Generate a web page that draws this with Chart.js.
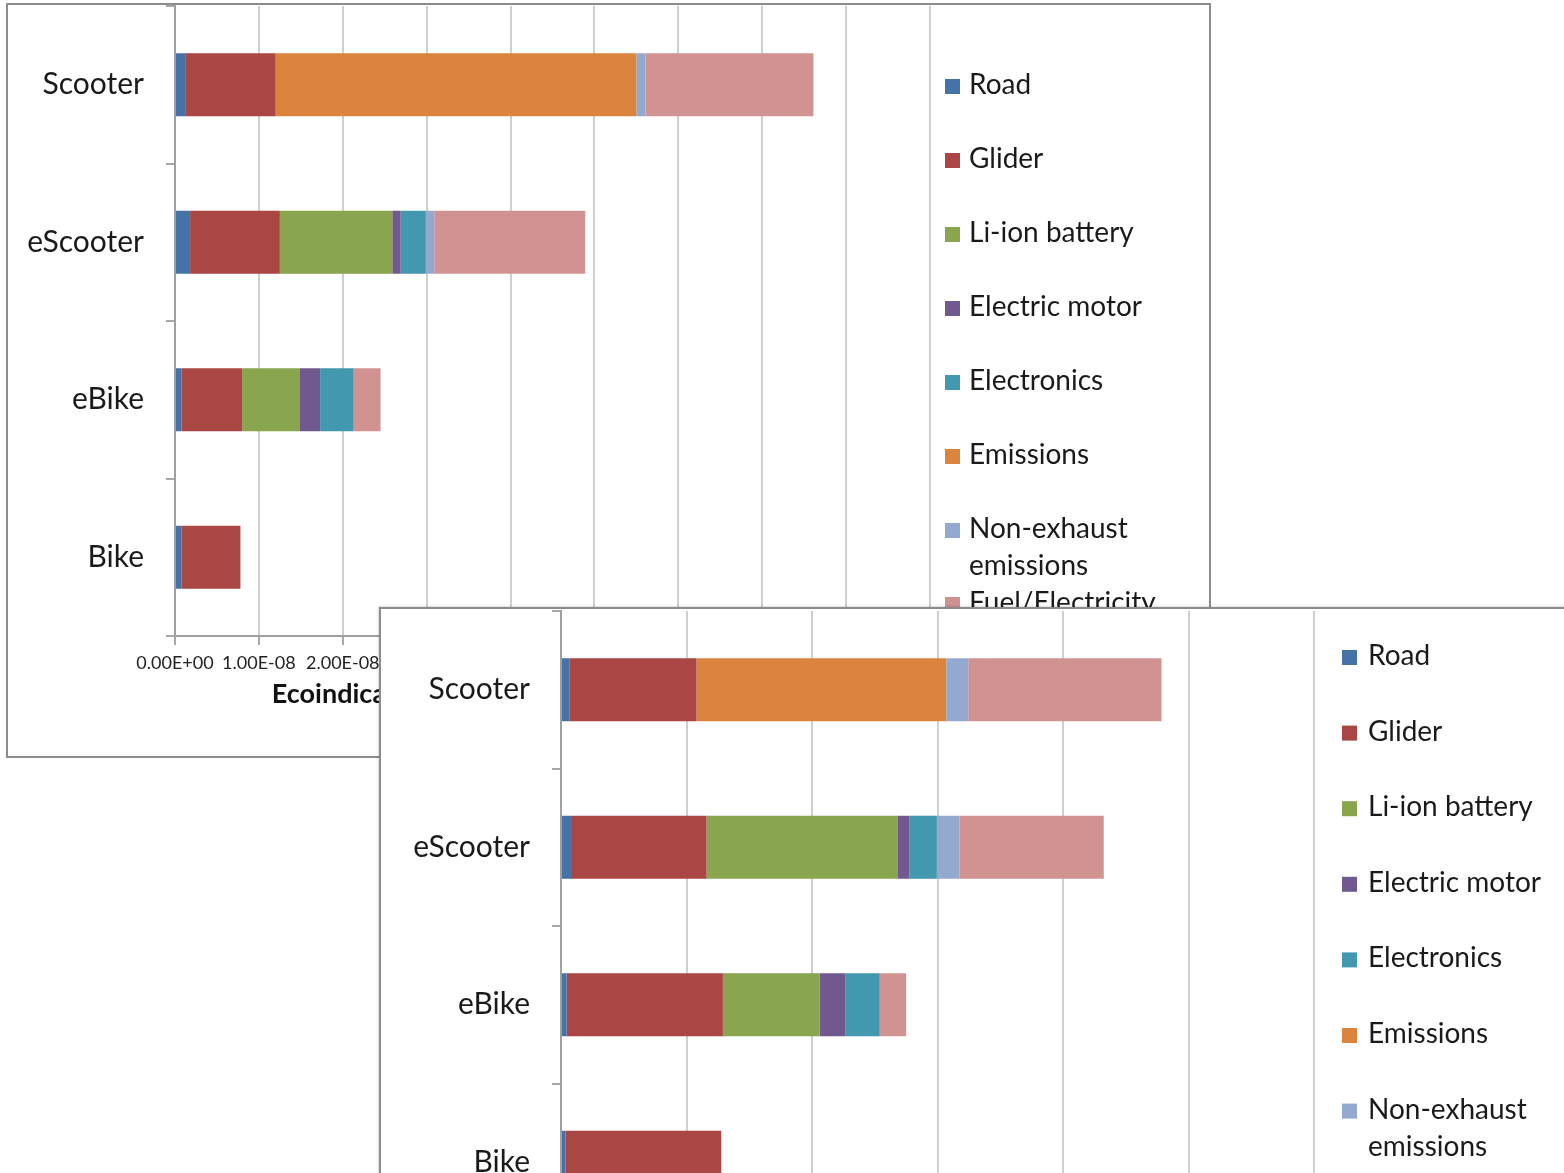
<!DOCTYPE html>
<html>
<head>
<meta charset="utf-8">
<title>Ecoindicator per vehicle</title>
<script src="https://cdn.jsdelivr.net/npm/chart.js@4.4.1/dist/chart.umd.min.js"></script>
<style>
  html, body { margin: 0; padding: 0; background: #fff; overflow: hidden; width: 1564px; height: 1173px; }
  .panel { position: absolute; background: #fff; border: 2px solid #8c8c8c; }
  #panelA { left: 6px; top: 3px; width: 1201px; height: 751px; }
  #panelB { left: 379px; top: 607px; width: 1200px; height: 751px; box-shadow: -1px -1px 2px rgba(0,0,0,0.15); }
  canvas { display: block; }
</style>
</head>
<body>
<div class="panel" id="panelA"><canvas id="chartA" width="1201" height="751"></canvas></div>
<div class="panel" id="panelB"><canvas id="chartB" width="1200" height="751"></canvas></div>
<script>
// vehicles, top to bottom
const vehicles = ['Scooter', 'eScooter', 'eBike', 'Bike'];

const seriesNames = ['Road', 'Glider', 'Li-ion battery', 'Electric motor', 'Electronics',
  'Emissions', 'Non-exhaust emissions', 'Fuel/Electricity'];
const seriesColors = ['#4572A7', '#AA4643', '#89A54E', '#71588F', '#4198AF',
  '#DB843D', '#93A9CF', '#D19392'];

// upper chart, values in units of 1E-08 Ecoindicator points
const roadA        = [0.13, 0.18, 0.08, 0.08];
const gliderA      = [1.07, 1.07, 0.72, 0.70];
const batteryA     = [0, 1.34, 0.69, 0];
const motorA       = [0, 0.10, 0.24, 0];
const electronicsA = [0, 0.30, 0.40, 0];
const emissionsA   = [4.30, 0, 0, 0];
const nonExhaustA  = [0.11, 0.10, 0, 0];
const fuelA        = [2.00, 1.80, 0.32, 0];
const ticksA = { min: 0, max: 9, step: 1 };

// lower chart, values in gridline units
const roadB        = [0.07, 0.08, 0.045, 0.037];
const gliderB      = [1.01, 1.08, 1.245, 1.24];
const batteryB     = [0, 1.525, 0.77, 0];
const motorB       = [0, 0.09, 0.205, 0];
const electronicsB = [0, 0.22, 0.275, 0];
const emissionsB   = [1.99, 0, 0, 0];
const nonExhaustB  = [0.175, 0.18, 0, 0];
const fuelB        = [1.54, 1.15, 0.21, 0];
const ticksB = { min: 0, max: 6, step: 1 };

const FONT = 'Lato, "Open Sans", sans-serif';
const TEXT = '#1a1a1a';

function sci(v) {
  if (v === 0) return '0.00E+00';
  const [m, e] = (v * 1e-8).toExponential(2).split('e');
  const n = Number(e);
  return m + 'E' + (n < 0 ? '-' : '+') + String(Math.abs(n)).padStart(2, '0');
}

// legend on the right, one entry per series, long names wrapped
const sideLegend = {
  id: 'sideLegend',
  afterDraw(chart, args, opts) {
    const ctx = chart.ctx;
    ctx.save();
    ctx.font = opts.font;
    ctx.textBaseline = 'middle';
    ctx.textAlign = 'left';
    chart.data.datasets.forEach((ds, i) => {
      const y = opts.top + i * opts.step;
      ctx.fillStyle = ds.backgroundColor;
      ctx.fillRect(opts.boxX, y - 6, 15, 15);
      // wrap words onto extra lines when too wide
      const lines = [];
      let line = '';
      ds.label.split(' ').forEach(w => {
        const t = line ? line + ' ' + w : w;
        if (line && ctx.measureText(t).width > opts.maxWidth) { lines.push(line); line = w; }
        else line = t;
      });
      lines.push(line);
      ctx.fillStyle = TEXT;
      lines.forEach((l, k) => ctx.fillText(l, opts.textX, y + k * opts.lineGap));
    });
    ctx.restore();
  }
};

function buildChart(id, values, ticks, layout) {
  const datasets = values.map((data, i) => ({
    label: seriesNames[i],
    data: data,
    backgroundColor: seriesColors[i],
    borderWidth: 0,
    categoryPercentage: 1,
    barPercentage: 0.4
  }));

  return new Chart(document.getElementById(id), {
    type: 'bar',
    data: { labels: vehicles, datasets: datasets },
    plugins: [sideLegend],
    options: {
      indexAxis: 'y',
      responsive: false,
      animation: false,
      layout: { padding: { top: layout.top, right: layout.right, left: 0, bottom: 0 } },
      plugins: {
        legend: { display: false },
        tooltip: { enabled: false },
        sideLegend: layout.legend
      },
      scales: {
        x: {
          stacked: true,
          min: ticks.min,
          max: ticks.max,
          afterFit: s => { s.height = layout.xHeight; },
          ticks: {
            stepSize: ticks.step,
            padding: 7,
            color: '#222',
            font: { family: FONT, size: 18 },
            callback: layout.format
          },
          grid: { color: '#cfcfcf', lineWidth: 2, tickLength: 9, tickColor: '#a8a8a8' },
          border: { color: '#a0a0a0', width: 2 },
          title: layout.title
        },
        y: {
          stacked: true,
          // fixed axis width; labels sit inside categories so no edge padding
          afterFit: s => { s.width = layout.yWidth; s.paddingTop = 0; s.paddingBottom = 0; },
          ticks: { padding: 22, color: TEXT, font: { family: FONT, size: 30 } },
          grid: { drawOnChartArea: false, tickLength: 9, color: '#a8a8a8', lineWidth: 2 },
          border: { color: '#a0a0a0', width: 2 }
        }
      }
    }
  });
}

buildChart('chartA',
  [roadA, gliderA, batteryA, motorA, electronicsA, emissionsA, nonExhaustA, fuelA],
  ticksA,
  {
    top: 1, right: 279, yWidth: 167, xHeight: 120,
    format: v => sci(v),
    title: {
      display: true,
      text: 'Ecoindicator 99 (H/A) points per passenger-km',
      color: '#111',
      font: { family: FONT, size: 27, weight: 'bold' },
      padding: { top: 0, bottom: 46 }
    },
    legend: { boxX: 937, textX: 961, top: 80, step: 74, lineGap: 37, maxWidth: 215, font: '28px ' + FONT }
  });

buildChart('chartB',
  [roadB, gliderB, batteryB, motorB, electronicsB, emissionsB, nonExhaustB, fuelB],
  ticksB,
  {
    top: 2, right: 267, yWidth: 180, xHeight: 119,
    format: v => String(v),
    title: { display: false },
    legend: { boxX: 961, textX: 987, top: 47, step: 75.6, lineGap: 37, maxWidth: 215, font: '28px ' + FONT }
  });
</script>
</body>
</html>
